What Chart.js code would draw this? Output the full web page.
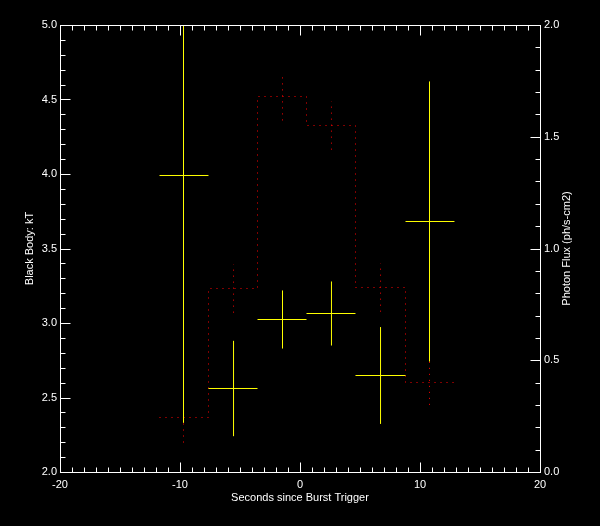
<!DOCTYPE html>
<html>
<head>
<meta charset="utf-8">
<script src="https://cdn.jsdelivr.net/npm/chart.js@4/dist/chart.umd.min.js"></script>
<style>
    html, body { margin: 0; padding: 0; background: #000; }
    #chart { display: block; background: #000; }
</style>
</head>
<body>
<canvas id="chart" width="600" height="526"></canvas>
<script>
// --- DATOS ---
const binCenters = [-9.75, -5.58, -1.5, 2.58, 6.67, 10.75];
const binEdges = [-11.75, -7.667, -3.583, 0.5, 4.583, 8.75, 12.83];
const kT = [3.9933, 2.5638, 3.0268, 3.0671, 2.651, 3.6846];
const kTErr = [1.66, 0.32, 0.195, 0.215, 0.325, 0.94];
const flux = [0.2461, 0.8233, 1.6823, 1.5526, 0.8277, 0.4027];
const fluxErr = [0.112, 0.108, 0.107, 0.108, 0.108, 0.10];
const xTicks = [-20, -10, 0, 10, 20];

const FONT = '11px "Liberation Sans", Arial, sans-serif';

// cruces: segmento horizontal + vertical, separados por huecos
const crossData = [];
binCenters.forEach((c, i) => {
    crossData.push({ x: binEdges[i], y: kT[i] }, { x: binEdges[i + 1], y: kT[i] }, { x: c, y: null });
    crossData.push({ x: c, y: kT[i] - kTErr[i] }, { x: c, y: kT[i] + kTErr[i] }, { x: c, y: null });
});

// escalera del flujo
const stepData = flux.map((f, i) => ({ x: binEdges[i], y: f }));
stepData.push({ x: binEdges[binEdges.length - 1], y: flux[flux.length - 1] });

const fluxErrData = [];
binCenters.forEach((c, i) => {
    fluxErrData.push({ x: c, y: flux[i] - fluxErr[i] }, { x: c, y: flux[i] + fluxErr[i] }, { x: c, y: null });
});

// marco, marcas menores y títulos
const framePlugin = {
    id: 'frame',
    beforeDatasetsDraw(chart) {
        chart.ctx.save();
        chart.ctx.translate(0.5, 0.5);
    },
    afterDatasetsDraw(chart) {
        chart.ctx.restore();
    },
    afterDraw(chart) {
        const { ctx, chartArea: a, scales } = chart;
        ctx.save();
        ctx.translate(0.5, 0.5);
        ctx.strokeStyle = '#fff';
        ctx.lineWidth = 1;
        ctx.strokeRect(a.left, a.top, a.right - a.left, a.bottom - a.top);
        ctx.beginPath();
        for (let v = -20; v <= 20; v++) {
            const px = Math.round(scales.x.getPixelForValue(v));
            const len = v % 10 === 0 ? 10 : 5;
            ctx.moveTo(px, a.bottom); ctx.lineTo(px, a.bottom - len);
            ctx.moveTo(px, a.top); ctx.lineTo(px, a.top + len);
        }
        for (let i = 20; i <= 50; i++) {
            const py = Math.round(scales.y.getPixelForValue(i / 10));
            const len = i % 5 === 0 ? 10 : 5;
            ctx.moveTo(a.left, py); ctx.lineTo(a.left + len, py);
        }
        for (let i = 0; i <= 20; i++) {
            const py = Math.round(scales.y1.getPixelForValue(i / 10));
            const len = i % 5 === 0 ? 10 : 5;
            ctx.moveTo(a.right, py); ctx.lineTo(a.right - len, py);
        }
        ctx.stroke();
        ctx.restore();

        ctx.save();
        ctx.fillStyle = '#fff';
        ctx.font = FONT;
        ctx.textAlign = 'center';
        ctx.textBaseline = 'middle';
        const midY = (a.top + a.bottom) / 2;
        ctx.fillText('Seconds since Burst Trigger', (a.left + a.right) / 2, 498);
        ctx.translate(30, midY);
        ctx.rotate(-Math.PI / 2);
        ctx.fillText('Black Body: kT', 0, 0);
        ctx.restore();

        ctx.save();
        ctx.fillStyle = '#fff';
        ctx.font = FONT;
        ctx.textAlign = 'center';
        ctx.textBaseline = 'middle';
        ctx.translate(567, midY);
        ctx.rotate(-Math.PI / 2);
        ctx.fillText('Photon Flux (ph/s-cm2)', 0, 0);
        ctx.restore();
    }
};

const tickFont = { family: '"Liberation Sans", Arial, sans-serif', size: 11 };

new Chart(document.getElementById('chart'), {
    type: 'line',
    data: {
        datasets: [
            { data: crossData, borderColor: '#ffff00', borderWidth: 1, yAxisID: 'y', order: 0 },
            { data: stepData, stepped: 'before', borderColor: '#ff0000', borderWidth: 1, borderDash: [1, 5], yAxisID: 'y1', order: 1 },
            { data: fluxErrData, borderColor: '#ff0000', borderWidth: 1, borderDash: [1, 5], yAxisID: 'y1', order: 2 }
        ]
    },
    options: {
        responsive: false,
        animation: false,
        devicePixelRatio: 1,
        layout: { padding: { top: 25, left: 0, right: 0, bottom: 0 } },
        elements: { point: { radius: 0 }, line: { tension: 0, borderCapStyle: 'butt' } },
        plugins: { legend: { display: false }, tooltip: { enabled: false } },
        scales: {
            x: {
                type: 'linear', min: -20, max: 20,
                afterBuildTicks: s => { s.ticks = xTicks.map(v => ({ value: v })); },
                ticks: { color: '#fff', font: tickFont, padding: 6, maxRotation: 0, autoSkip: false, callback: v => String(v) },
                grid: { display: false, drawTicks: false },
                border: { display: false },
                afterFit: s => { s.height = 54; }
            },
            y: {
                position: 'left', min: 2, max: 5,
                ticks: { stepSize: 0.5, color: '#fff', font: tickFont, padding: 3, callback: v => v.toFixed(1) },
                grid: { display: false, drawTicks: false },
                border: { display: false },
                afterFit: s => { s.width = 60; }
            },
            y1: {
                position: 'right', min: 0, max: 2,
                ticks: { stepSize: 0.5, color: '#fff', font: tickFont, padding: 4, callback: v => v.toFixed(1) },
                grid: { display: false, drawTicks: false },
                border: { display: false },
                afterFit: s => { s.width = 60; }
            }
        }
    },
    plugins: [framePlugin]
});
</script>
</body>
</html>
